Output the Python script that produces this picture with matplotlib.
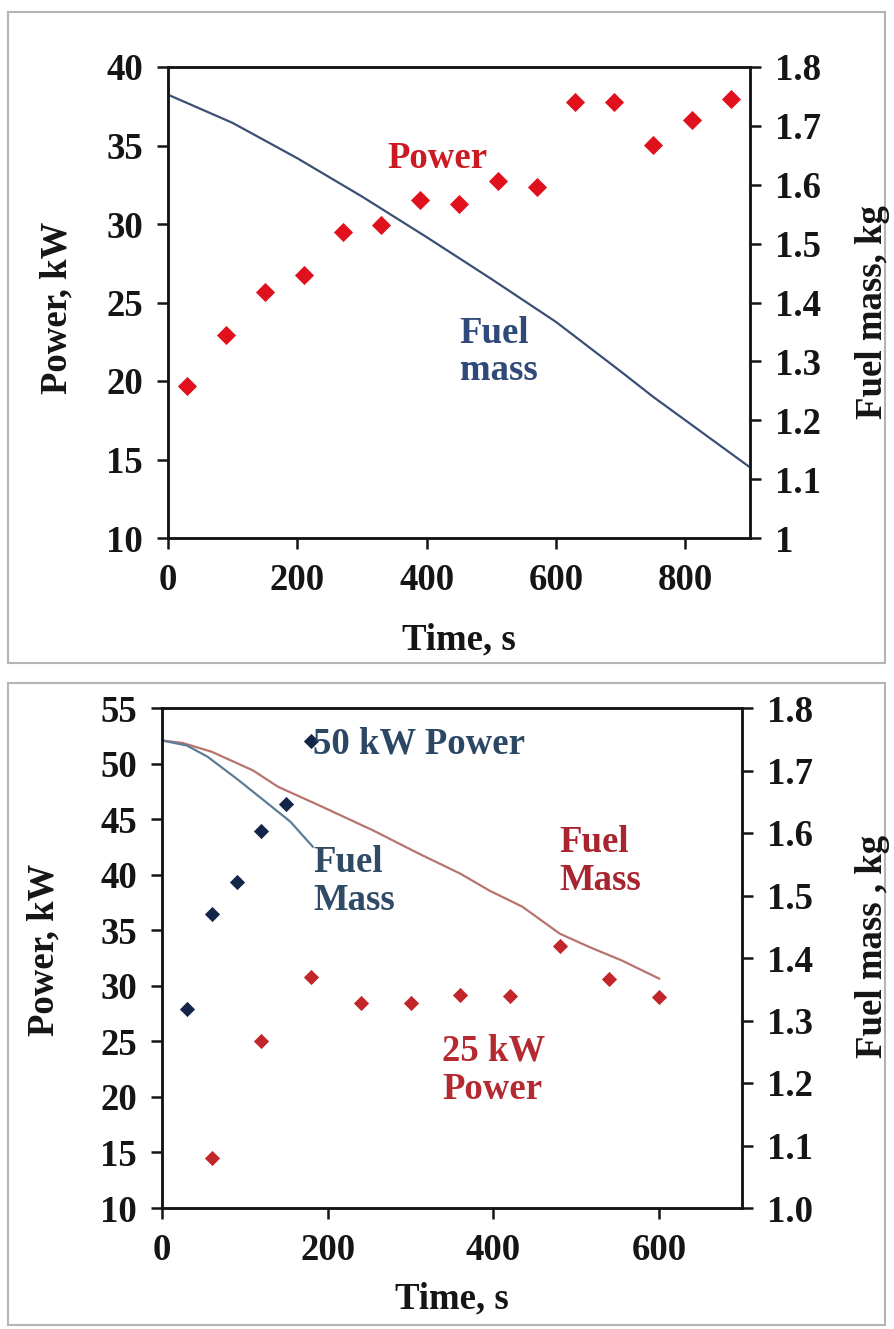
import matplotlib
matplotlib.use("Agg")
import matplotlib.pyplot as plt
from matplotlib.patches import Rectangle
from matplotlib.ticker import FormatStrFormatter, FuncFormatter

# ---------------- data: 30 kW run (upper panel) ----------------
t_power_a = [30, 90, 150, 210, 270, 330, 390, 450, 510, 570, 630, 690, 750, 810, 870]
power_a = [19.65, 22.9, 25.7, 26.75, 29.5, 29.95, 31.5, 31.3, 32.75, 32.35, 37.75, 37.75, 35.05, 36.6, 37.95]
t_fuel_a = [0, 100, 200, 300, 400, 500, 600, 700, 750, 800, 900]
fuel_a = [1.753, 1.705, 1.645, 1.580, 1.511, 1.440, 1.367, 1.283, 1.240, 1.200, 1.120]

# ---------------- data: 50 kW and 25 kW runs (lower panel) ----------------
t_power_50 = [30, 60, 90, 120, 150, 180]
power_50 = [27.9, 36.5, 39.35, 43.95, 46.4, 52.05]
t_power_25 = [60, 120, 180, 240, 300, 360, 420, 480, 540, 600]
power_25 = [14.5, 25.0, 30.75, 28.45, 28.45, 29.15, 29.1, 33.6, 30.65, 29.0]
t_fuel_50 = [0, 30, 55, 90, 125, 155, 182]
fuel_50 = [1.748, 1.740, 1.722, 1.687, 1.650, 1.618, 1.578]
t_fuel_25 = [0, 25, 60, 110, 140, 190, 255, 310, 360, 395, 435, 480, 515, 555, 600]
fuel_25 = [1.748, 1.744, 1.730, 1.700, 1.674, 1.644, 1.604, 1.567, 1.535, 1.508,
           1.482, 1.439, 1.418, 1.396, 1.367]

top_xticks = [0, 200, 400, 600, 800]
top_yticks = [10, 15, 20, 25, 30, 35, 40]
top_y2ticks = [1.0, 1.1, 1.2, 1.3, 1.4, 1.5, 1.6, 1.7, 1.8]
bot_xticks = [0, 200, 400, 600]
bot_yticks = [10, 15, 20, 25, 30, 35, 40, 45, 50, 55]
bot_y2ticks = [1.0, 1.1, 1.2, 1.3, 1.4, 1.5, 1.6, 1.7, 1.8]

plt.rcParams["font.family"] = ["Liberation Serif", "DejaVu Serif"]
plt.rcParams["font.weight"] = "bold"
FS = 26.5

W, H = 894, 1329
fig = plt.figure(figsize=(W / 100, H / 100), dpi=100)
fig.patch.set_facecolor("white")


def fx(px):
    return px / W


def fy(py):
    return 1 - py / H


# panel frames
for y0, y1 in [(12, 663), (683, 1325)]:
    fig.patches.append(Rectangle((fx(8), fy(y1)), fx(877), (y1 - y0) / H,
                                 transform=fig.transFigure, fill=False,
                                 edgecolor="#b4b4b4", linewidth=1.5))


def style_axes(ax, ax2):
    for a in (ax, ax2):
        for sp in a.spines.values():
            sp.set_linewidth(1.8)
            sp.set_color("#151515")
        a.tick_params(direction="out", length=8, width=1.8, pad=10,
                      labelsize=FS, colors="#151515")
    for lab in ax.get_xticklabels() + ax.get_yticklabels() + ax2.get_yticklabels():
        lab.set_fontweight("bold")


# ================= upper panel =================
L, R, T, B = 168, 750, 67, 538
ax = fig.add_axes([fx(L), fy(B), fx(R - L), (B - T) / H])
ax2 = ax.twinx()
ax.scatter(t_power_a, power_a, marker="D", s=95, color="#e0101c", linewidths=0, zorder=3)
ax2.plot(t_fuel_a, fuel_a, color="#3b4f75", linewidth=1.6)
ax.set_xlim(0, 900)
ax.set_ylim(10, 40)
ax2.set_ylim(1.0, 1.8)
ax.set_xticks(top_xticks)
ax.set_yticks(top_yticks)
ax2.set_yticks(top_y2ticks)
ax2.yaxis.set_major_formatter(FuncFormatter(lambda v, p: f"{v:g}"))
style_axes(ax, ax2)
ax.text(417, 34.2, "Power", color="#cc1a22", fontsize=FS, fontweight="bold",
        ha="center", va="center")
ax.text(451, 21.85, "Fuel\nmass", color="#2f4a78", fontsize=FS, fontweight="bold",
        ha="left", va="center", linespacing=1.1)
fig.text(fx(57), fy(308), "Power, kW", rotation=90, fontsize=FS, fontweight="bold",
         ha="center", va="center", color="#151515")
fig.text(fx(872), fy(312), "Fuel mass, kg", rotation=90, fontsize=FS, fontweight="bold",
         ha="center", va="center", color="#151515")
fig.text(fx(459), fy(640), "Time, s", fontsize=FS, fontweight="bold",
         ha="center", va="center", color="#151515")

# ================= lower panel =================
L, R, T, B = 162, 742, 708, 1208
bx = fig.add_axes([fx(L), fy(B), fx(R - L), (B - T) / H])
bx2 = bx.twinx()
bx2.plot(t_fuel_25, fuel_25, color="#b8736e", linewidth=1.6)
bx2.plot(t_fuel_50, fuel_50, color="#5b7d98", linewidth=1.6)
bx.scatter(t_power_50, power_50, marker="D", s=60, color="#13264a", linewidths=0, zorder=3)
bx.scatter(t_power_25, power_25, marker="D", s=60, color="#c3262a", linewidths=0, zorder=3)
bx.set_zorder(bx2.get_zorder() + 1)
bx.patch.set_visible(False)
bx.set_xlim(0, 700)
bx.set_ylim(10, 55)
bx2.set_ylim(1.0, 1.8)
bx.set_xticks(bot_xticks)
bx.set_yticks(bot_yticks)
bx2.set_yticks(bot_y2ticks)
bx2.yaxis.set_major_formatter(FormatStrFormatter("%.1f"))
style_axes(bx, bx2)
bx.text(182, 51.75, "50 kW Power", color="#2c4764", fontsize=FS, fontweight="bold",
        ha="left", va="center")
bx.text(183, 39.4, "Fuel\nMass", color="#2f4b66", fontsize=FS, fontweight="bold",
        ha="left", va="center", linespacing=1.1)
bx.text(479, 41.2, "Fuel\nMass", color="#a82530", fontsize=FS, fontweight="bold",
        ha="left", va="center", linespacing=1.1)
bx.text(338, 22.4, "25 kW\nPower", color="#b52a30", fontsize=FS, fontweight="bold",
        ha="left", va="center", linespacing=1.1)
fig.text(fx(44), fy(950), "Power, kW", rotation=90, fontsize=FS, fontweight="bold",
         ha="center", va="center", color="#151515")
fig.text(fx(872), fy(946), "Fuel mass , kg", rotation=90, fontsize=FS, fontweight="bold",
         ha="center", va="center", color="#151515")
fig.text(fx(452), fy(1299), "Time, s", fontsize=FS, fontweight="bold",
         ha="center", va="center", color="#151515")

fig.savefig("out.png", dpi=100, facecolor="white")
